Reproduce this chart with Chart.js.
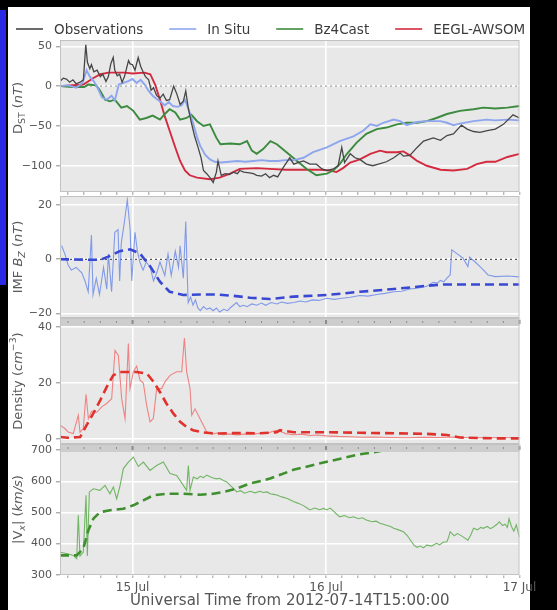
<!DOCTYPE html>
<html>
<head>
<meta charset="utf-8">
<script src="https://cdn.jsdelivr.net/npm/chart.js@4.4.1/dist/chart.umd.min.js"></script>
<style>
  html, body { margin: 0; padding: 0; background: #000; }
  #page { position: relative; width: 557px; height: 610px; overflow: hidden; background: #000; }
  #sheet { position: absolute; left: 8px; top: 7px; width: 522px; height: 603px; background: #fff; }
  #edge { position: absolute; left: 0; top: 10px; width: 6px; height: 275px; background: #2a2ae6; }
  canvas { position: absolute; left: 0; top: 0; }
</style>
</head>
<body>
<div id="page">
  <div id="sheet"></div>
  <div id="edge"></div>
  <canvas id="cDst" width="557" height="610"></canvas>
  <canvas id="cBz" width="557" height="610"></canvas>
  <canvas id="cDens" width="557" height="610"></canvas>
  <canvas id="cVx" width="557" height="610"></canvas>
</div>
<script>
// ---- time axis: hours after 2012-07-14T15:00:00 UT ----
const dayTicks = [9, 33, 57];
const dayLabels = ['15 Jul', '16 Jul', '17 Jul'];
const minorHours = [1,3,5,7,9,11,13,15,17,19,21,23,25,27,29,31,33,35,37,39,41,43,45,47,49,51,53,55,57];

// ---- Dst (nT): [hour, value] ----
const dstObservations = [[0,6],[0.4,10],[0.8,9],[1.2,5],[1.6,8],[2.0,3],[2.5,5],[2.9,8],[3.2,52],[3.4,30],[3.7,22],[3.9,27],[4.2,18],[4.6,20],[5.0,12],[5.3,15],[5.7,6],[6.0,12],[6.3,28],[6.6,36],[6.8,20],[7.1,13],[7.4,15],[7.7,5],[8.0,12],[8.5,32],[8.7,28],[9.0,27],[9.3,20],[9.7,36],[10.0,25],[10.3,18],[10.6,12],[11.0,8],[11.3,-5],[11.6,-2],[12.0,-12],[12.4,-15],[12.8,-10],[13.2,-18],[13.6,-17],[14.1,0],[14.5,-10],[14.9,-23],[15.3,-19],[15.6,-6],[15.9,-27],[16.3,-46],[16.7,-63],[17.1,-76],[17.5,-90],[17.8,-106],[18.2,-110],[18.6,-115],[19.0,-121],[19.4,-108],[19.6,-94],[20.0,-112],[20.5,-110],[21.0,-111],[21.5,-108],[22.0,-110],[22.3,-106],[22.8,-108],[23.5,-109],[24.0,-110],[24.4,-112],[25.0,-113],[25.5,-110],[26.0,-115],[26.5,-112],[27.0,-114],[27.7,-102],[28.5,-90],[29.0,-98],[29.5,-96],[30.2,-94],[31.0,-98],[31.8,-98],[32.5,-104],[33.1,-106],[33.9,-104],[34.5,-100],[34.95,-77],[35.3,-96],[36.0,-85],[36.6,-90],[37.2,-92],[38.0,-98],[38.8,-100],[39.5,-98],[40.5,-95],[41.4,-90],[42.2,-84],[42.6,-88],[43.4,-87],[44.3,-77],[45.1,-69],[46.3,-65],[47.2,-68],[48.0,-62],[48.8,-60],[49.8,-49],[50.5,-54],[51.3,-57],[52.1,-58],[53.0,-56],[54.0,-54],[55.0,-48],[56.2,-36],[57,-40]];
const dstInSitu = [[0,0],[1,1],[2,-2],[2.8,4],[3.3,20],[3.7,12],[4.2,6],[4.7,-3],[5.2,-14],[5.8,-17],[6.4,-12],[6.8,-18],[7.3,2],[7.8,4],[8.4,6],[9.0,9],[9.5,4],[10.0,8],[10.5,2],[11.0,-6],[11.5,-12],[12.0,-16],[12.5,-20],[13.0,-24],[13.5,-20],[14.0,-25],[14.6,-26],[15.1,-24],[15.5,-17],[15.9,-28],[16.5,-46],[17.0,-64],[17.4,-75],[18.0,-86],[18.6,-92],[19.2,-95],[20,-96],[21,-95],[22,-94],[23,-95],[24,-94],[25,-93],[26,-94],[27,-94],[28,-93],[29,-93],[30.2,-90],[31.4,-83],[33.1,-77],[34.7,-69],[36.4,-63],[37.6,-56],[38.5,-48],[39.3,-50],[40.1,-46],[41.4,-42],[42.2,-44],[43,-49],[44.3,-45],[45.5,-44],[47.2,-44],[48,-46],[48.8,-49],[49.6,-47],[51.3,-44],[52.9,-42],[54,-43],[55.5,-42],[57,-43]];
const dstBz4Cast = [[0,0],[1.5,-1],[3,-1],[3.5,2],[4.5,1],[5,-6],[5.6,-17],[6.2,-19],[6.8,-17],[7.6,-27],[8.3,-25],[9.1,-31],[9.9,-42],[10.7,-40],[11.5,-37],[12.4,-42],[13.0,-35],[13.6,-29],[14.3,-33],[14.9,-42],[15.7,-40],[16.3,-36],[17.0,-44],[17.8,-50],[18.6,-48],[19.4,-65],[19.9,-73],[21.1,-72],[22.3,-73],[23.2,-69],[23.8,-81],[24.4,-85],[25.2,-79],[26.1,-69],[26.9,-73],[28.1,-83],[29.4,-94],[30.6,-104],[31.8,-112],[33.1,-110],[33.9,-106],[34.7,-98],[35.6,-85],[36.8,-71],[38.0,-60],[39.3,-54],[40.5,-52],[41.8,-48],[43.0,-46],[44.3,-46],[45.5,-44],[46.7,-40],[48,-35],[49.6,-31],[51.3,-29],[52.5,-27],[54,-28],[55.5,-27],[57,-25]];
const dstEeglAwsom = [[0,0],[2.9,2],[4.1,10],[5,15],[6,17],[8,17],[9,16],[10.5,17],[11.2,15],[11.8,2],[12.4,-17],[13.0,-38],[13.6,-56],[14.3,-77],[14.9,-94],[15.5,-106],[16.1,-112],[17,-115],[18.6,-117],[19.8,-115],[21.1,-110],[22.3,-104],[24.4,-103],[26,-104],[28,-105],[30,-105],[32.3,-105],[33.5,-106],[34.3,-108],[35.1,-103],[36,-96],[37.2,-92],[38.5,-85],[39.7,-81],[40.5,-83],[41.8,-83],[42.6,-82],[43.4,-87],[44.3,-94],[45.5,-100],[47.2,-105],[48.8,-106],[50.5,-104],[51.7,-98],[52.9,-95],[54,-95],[55.5,-89],[57,-85]];

// ---- IMF Bz (nT) ----
const bzInSitu = [[0.2,5],[0.6,2],[1.0,-2],[1.4,-4],[2.0,-3],[2.7,-5],[3.1,-8],[3.5,-12],[3.9,9],[4.1,-13],[4.5,-7],[4.9,-13],[5.4,-3],[5.8,-11],[6.0,2],[6.4,-12],[6.8,10],[7.2,11],[7.4,-8],[7.6,6],[8.0,14],[8.35,22],[8.7,11],[8.9,-8],[9.3,10],[9.6,3],[9.9,-1],[10.3,-4],[10.7,-1],[11.2,-3],[11.6,-8],[12.0,-5],[12.4,-1],[13.0,-6],[13.4,2],[13.8,-6],[14.3,3],[14.7,-3],[14.9,5],[15.3,-7],[15.6,14],[15.8,-7],[15.9,-16],[16.2,-14],[16.5,-17],[16.8,-15],[17.1,-18],[17.4,-19],[17.8,-17.5],[18.2,-18.5],[18.6,-18],[19.0,-19],[19.4,-18],[19.8,-19.5],[20.3,-18.5],[20.8,-19],[21.1,-18],[21.5,-17],[21.9,-16],[22.3,-17.5],[22.8,-17],[23.2,-17.5],[23.8,-16.5],[24.4,-17],[25.0,-16.2],[25.5,-17],[26.2,-16],[26.9,-16.5],[27.5,-15.8],[28.2,-16.3],[29,-16],[29.8,-15.4],[30.5,-15.8],[31.3,-15],[32.1,-15.2],[33.1,-14.4],[34,-14.8],[35,-14.4],[36,-14],[37.2,-13.4],[38.2,-13.6],[39.3,-13],[40.3,-12.6],[41.4,-12],[42.4,-11.8],[43.4,-11],[44.5,-10.6],[45.5,-10],[46.0,-9],[46.3,-8.5],[46.8,-8.8],[47.2,-7.8],[47.6,-8.3],[48,-7],[48.4,-5.8],[48.6,3.5],[49.2,2.2],[50.0,0.4],[50.6,-2.7],[50.8,0.8],[51.5,-1],[52.3,-3.3],[53.1,-5.8],[54,-6.4],[55.5,-6.2],[57,-6.5]];
const bzModel = [[0,0],[4.96,-0.2],[6,1],[7.4,3],[8.7,3.7],[9.9,2.2],[11.2,-2.7],[12.4,-8.3],[13.6,-12],[15.3,-13.2],[17.4,-13],[19.4,-13],[21.5,-13.5],[23.6,-14.2],[26,-14.7],[29,-13.8],[33.1,-13.2],[37.2,-12],[41.4,-11],[45.5,-9.8],[47.6,-9.3],[57,-9.3]];

// ---- proton density (cm^-3) ----
const densInSitu = [[0,5],[0.6,3.8],[1.0,2.6],[1.65,2],[2.27,8.5],[2.48,2.5],[2.89,3.8],[3.23,16],[3.52,7.3],[3.93,10],[4.55,9.5],[5.17,11.5],[5.79,12.7],[6.41,14.4],[6.82,31.6],[7.24,29.8],[7.65,14.4],[8.07,7.3],[8.48,34],[8.68,18],[9.1,24],[9.51,26],[9.93,21],[10.34,20],[10.75,12],[11.17,6.2],[11.58,7.4],[11.99,18],[12.61,18],[13.03,20.4],[13.65,22.7],[14.47,24],[15.1,24],[15.43,36],[15.71,24],[16.13,18],[16.34,8.5],[16.75,10.8],[17.37,7.3],[17.78,5],[18.2,2.6],[18.8,1.8],[19.5,2.2],[20.2,1.6],[21,1.9],[22,1.5],[23,1.9],[24,1.8],[25,2.2],[26,2.4],[26.6,3.0],[27,3.2],[27.5,2.6],[28,2.0],[29,1.6],[30,1.8],[31,1.3],[32,1.5],[33,1.2],[34.5,1.0],[36,0.9],[37.5,0.7],[39,0.8],[41,0.6],[43,0.5],[45,0.7],[47,0.6],[49,0.8],[51,0.5],[53,0.6],[55,0.5],[57,0.6]];
const densModel = [[0,0.8],[1.0,0.5],[2.5,0.8],[3.3,5],[4.1,9],[5.0,13.9],[5.8,18.6],[6.6,22.7],[7.4,23.9],[9.5,23.9],[10.8,23.3],[11.6,20.4],[12.4,16.8],[13.2,12.7],[14.1,9],[14.9,6.2],[15.7,4.4],[16.5,3.2],[17.8,2.4],[19.4,2],[21.9,2.2],[24.8,2.1],[26.9,2.5],[27.3,3.2],[29,2.5],[33.1,2.5],[37.2,2.3],[41.4,2.1],[45.5,1.9],[48,1.5],[49.6,0.6],[54,0.3],[57,0.3]];

// ---- |Vx| (km/s) ----
const vxInSitu = [[0,372],[0.8,368],[1.65,362],[2.07,351],[2.27,491],[2.48,360],[2.89,373],[3.23,555],[3.39,360],[3.64,566],[4.14,576],[4.96,571],[5.58,587],[6.2,560],[6.62,582],[7.03,544],[7.44,585],[7.86,641],[8.48,662],[9.1,678],[9.72,648],[10.34,662],[11.17,635],[11.99,651],[12.82,662],[13.65,625],[14.47,619],[15.3,587],[15.71,571],[15.92,651],[16.13,571],[16.54,614],[17.0,608],[17.4,616],[17.78,612],[18.2,620],[18.61,615],[19.0,611],[19.44,608],[19.8,610],[20.27,603],[20.7,598],[21.1,587],[21.5,578],[21.92,566],[22.4,570],[22.9,562],[23.57,568],[24.2,563],[24.8,568],[25.2,564],[25.7,566],[26.05,560],[26.5,558],[26.9,556],[27.5,550],[28.2,545],[28.95,535],[29.5,530],[30.2,522],[30.6,515],[31.0,508],[31.6,514],[32.2,509],[32.7,513],[33.1,508],[33.5,514],[33.9,505],[34.3,495],[34.7,486],[35.3,490],[35.9,483],[36.4,486],[37.0,480],[37.5,483],[38.0,476],[38.7,470],[39.2,472],[39.7,465],[40.4,460],[41.0,455],[41.4,449],[42.0,444],[42.6,438],[43.1,425],[43.5,410],[43.9,395],[44.3,388],[44.7,392],[45.1,386],[45.5,395],[46.1,392],[46.7,401],[47.1,396],[47.5,404],[48.0,406],[48.2,420],[48.4,438],[48.9,425],[49.3,432],[49.6,428],[50.1,420],[50.6,411],[51.0,430],[51.3,449],[51.8,444],[52.2,452],[52.5,449],[53.0,455],[53.4,448],[53.8,454],[54.2,462],[54.5,470],[54.9,458],[55.2,462],[55.5,452],[55.7,480],[56.0,455],[56.3,440],[56.6,460],[57,420]];
const vxModel = [[0,362],[2.07,362],[2.89,384],[3.52,443],[4.14,480],[4.96,501],[6.2,507],[7.86,512],[9.1,523],[10.34,539],[11.58,555],[13.23,560],[15.3,560],[17.37,557],[19.02,560],[20.27,566],[21.92,577],[23.57,593],[25.2,603],[26.05,609],[28.95,637],[33.1,663],[37.2,687],[39.3,695],[41.5,708]];

// ---- y tick values per panel ----
const dstTicks = [-100, -50, 0, 50];
const bzTicks = [-20, 0, 20];
const densTicks = [0, 20, 40];
const vxTicks = [300, 400, 500, 600, 700];

const W = 557, H = 610;
const PLOT_LEFT = 60, PLOT_RIGHT = 519.5, Y_AXIS_W = 44;
const FONT = '"DejaVu Sans", sans-serif';
const TXT = '#555';

const pts = arr => arr.map(([x, y]) => ({ x, y }));

function drawRich(ctx, segs, cx, cy, size, color) {
  ctx.save();
  ctx.translate(cx, cy);
  ctx.rotate(-Math.PI / 2);
  ctx.textBaseline = 'middle';
  ctx.fillStyle = color;
  const parts = segs.map(s => {
    const fs = (s.sub || s.sup) ? size * 0.72 : size;
    const font = (s.it ? 'italic ' : '') + fs + 'px ' + FONT;
    ctx.font = font;
    return { t: s.t, font, w: ctx.measureText(s.t).width, dy: s.sub ? size * 0.3 : (s.sup ? -size * 0.38 : 0) };
  });
  let x = -parts.reduce((a, p) => a + p.w, 0) / 2;
  parts.forEach(p => { ctx.font = p.font; ctx.fillText(p.t, x, p.dy); x += p.w; });
  ctx.restore();
}

const panelDecor = {
  id: 'panelDecor',
  beforeDraw(chart) {
    const a = chart.chartArea, ctx = chart.ctx;
    ctx.save();
    ctx.fillStyle = '#e8e8e8';
    ctx.fillRect(a.left, a.top, a.right - a.left, a.bottom - a.top);
    ctx.restore();
  },
  beforeDatasetsDraw(chart, args, o) {
    if (!o.zeroLine) return;
    const a = chart.chartArea, ctx = chart.ctx;
    const y = chart.scales.y.getPixelForValue(0);
    ctx.save();
    ctx.strokeStyle = o.zeroLine;
    ctx.lineWidth = 1.3;
    ctx.setLineDash([2, 3]);
    ctx.beginPath(); ctx.moveTo(a.left, y); ctx.lineTo(a.right, y); ctx.stroke();
    ctx.restore();
  },
  afterDatasetsDraw(chart, args, o) {
    const a = chart.chartArea, ctx = chart.ctx;
    ctx.save();
    if (o.band) {
      ctx.fillStyle = '#cdcdcd';
      ctx.fillRect(a.left, a.top, a.right - a.left, o.band);
      const xs = chart.scales.x;
      ctx.fillStyle = '#8c8c8c';
      minorHours.forEach(h => {
        const px = xs.getPixelForValue(h);
        const major = dayTicks.includes(h);
        ctx.fillRect(px - (major ? 1 : 0.5), a.top + o.band / 2 - (major ? 2 : 1), major ? 2 : 1, major ? 4 : 2);
      });
    }
    ctx.strokeStyle = '#c2c2c2';
    ctx.lineWidth = 1;
    ctx.strokeRect(a.left + 0.5, a.top + 0.5, a.right - a.left - 1, a.bottom - a.top - 1);
    ctx.restore();
  },
  afterDraw(chart, args, o) {
    const a = chart.chartArea, ctx = chart.ctx;
    if (o.yTitle) drawRich(ctx, o.yTitle, 19, (a.top + a.bottom) / 2 + (o.yTitleShift || 0), 13, '#5a5a5a');
    if (o.legend) {
      ctx.save();
      ctx.font = '13.5px ' + FONT;
      ctx.textBaseline = 'middle';
      let x = 16; const y = 29;
      chart.data.datasets.forEach(ds => {
        ctx.strokeStyle = ds.borderColor;
        ctx.lineWidth = 1.6;
        ctx.beginPath(); ctx.moveTo(x, y); ctx.lineTo(x + 27, y); ctx.stroke();
        x += 38;
        ctx.fillStyle = '#3c3c3c';
        ctx.fillText(ds.label, x, y + 1);
        x += ctx.measureText(ds.label).width + 26;
      });
      ctx.restore();
    }
  }
};

function makePanel(id, cfg) {
  const last = !!cfg.xTitle;
  return new Chart(document.getElementById(id), {
    type: 'line',
    data: { datasets: cfg.datasets },
    options: {
      responsive: false,
      animation: false,
      events: [],
      elements: { point: { radius: 0 }, line: { tension: 0 } },
      layout: { padding: { left: PLOT_LEFT - Y_AXIS_W, right: W - PLOT_RIGHT, top: cfg.top, bottom: last ? 0 : H - cfg.bottom } },
      plugins: {
        legend: { display: false },
        tooltip: { enabled: false },
        panelDecor: cfg.decor
      },
      scales: {
        x: {
          type: 'linear', min: 0, max: 57,
          afterFit: s => { s.height = last ? H - cfg.bottom : 0; },
          afterBuildTicks: s => { s.ticks = minorHours.map(v => ({ value: v })); },
          ticks: {
            display: last, autoSkip: false, maxRotation: 0, padding: 3,
            font: { family: FONT, size: 12 }, color: TXT,
            callback: v => { const i = dayTicks.indexOf(v); return i >= 0 ? dayLabels[i] : ''; }
          },
          grid: {
            color: c => (c.tick && dayTicks.includes(c.tick.value)) ? '#ffffff' : 'rgba(0,0,0,0)',
            lineWidth: 1.6, tickLength: 3, tickColor: '#9a9a9a', tickWidth: 1
          },
          border: { display: false },
          title: last ? { display: true, text: cfg.xTitle, color: TXT, font: { family: FONT, size: 15 }, padding: { top: 0, bottom: 0 } } : { display: false }
        },
        y: {
          min: cfg.yMin, max: cfg.yMax,
          afterFit: s => { s.width = Y_AXIS_W; },
          afterBuildTicks: s => { s.ticks = cfg.yTicks.map(v => ({ value: v })); },
          ticks: {
            padding: 4, font: { family: FONT, size: 11 }, color: TXT,
            callback: v => String(v).replace('-', '\u2212')
          },
          grid: { color: '#ffffff', lineWidth: 1.6, tickLength: 4, tickColor: '#8a8a8a', tickWidth: 1 },
          border: { display: false }
        }
      }
    },
    plugins: [panelDecor]
  });
}

makePanel('cDst', {
  top: 40, bottom: 192, yMin: -133, yMax: 58, yTicks: dstTicks,
  decor: { zeroLine: '#a0a0a0', legend: true, yTitleShift: -8,
    yTitle: [{ t: 'D' }, { t: 'ST', sub: 1 }, { t: ' (' }, { t: 'nT', it: 1 }, { t: ')' }] },
  datasets: [
    { label: 'Observations', data: pts(dstObservations), borderColor: '#464646', borderWidth: 1.3 },
    { label: 'In Situ', data: pts(dstInSitu), borderColor: '#8ea6ee', borderWidth: 1.9 },
    { label: 'Bz4Cast', data: pts(dstBz4Cast), borderColor: '#3b8a3e', borderWidth: 1.9 },
    { label: 'EEGL-AWSOM', data: pts(dstEeglAwsom), borderColor: '#d42a3f', borderWidth: 1.9 }
  ]
});

makePanel('cBz', {
  top: 196, bottom: 318, yMin: -21.7, yMax: 23.4, yTicks: bzTicks,
  decor: { zeroLine: '#555555',
    yTitle: [{ t: 'IMF ' }, { t: 'B', it: 1 }, { t: 'Z', it: 1, sub: 1 }, { t: ' (' }, { t: 'nT', it: 1 }, { t: ')' }] },
  datasets: [
    { label: 'Bz model', data: pts(bzModel), borderColor: '#3848d2', borderWidth: 2.6, borderDash: [9, 5] },
    { label: 'Bz in situ', data: pts(bzInSitu), borderColor: 'rgba(110,140,232,0.85)', borderWidth: 1.1 }
  ]
});

makePanel('cDens', {
  top: 318, bottom: 444, yMin: -1.7, yMax: 43.1, yTicks: densTicks,
  decor: { band: 8,
    yTitle: [{ t: 'Density (' }, { t: 'cm', it: 1 }, { t: '\u22123', sup: 1 }, { t: ')' }] },
  datasets: [
    { label: 'Density model', data: pts(densModel), borderColor: '#e0322c', borderWidth: 2.6, borderDash: [9, 5] },
    { label: 'Density in situ', data: pts(densInSitu), borderColor: 'rgba(240,120,120,0.9)', borderWidth: 1.1 }
  ]
});

makePanel('cVx', {
  top: 444, bottom: 575, yMin: 299, yMax: 720, yTicks: vxTicks,
  xTitle: 'Universal Time from 2012-07-14T15:00:00',
  decor: { band: 8,
    yTitle: [{ t: '|V' }, { t: 'x', it: 1, sub: 1 }, { t: '| (' }, { t: 'km/s', it: 1 }, { t: ')' }] },
  datasets: [
    { label: 'Vx model', data: pts(vxModel), borderColor: '#3f8f2f', borderWidth: 2.6, borderDash: [9, 5] },
    { label: 'Vx in situ', data: pts(vxInSitu), borderColor: 'rgba(100,175,85,0.9)', borderWidth: 1.1 }
  ]
});
</script>
</body>
</html>
